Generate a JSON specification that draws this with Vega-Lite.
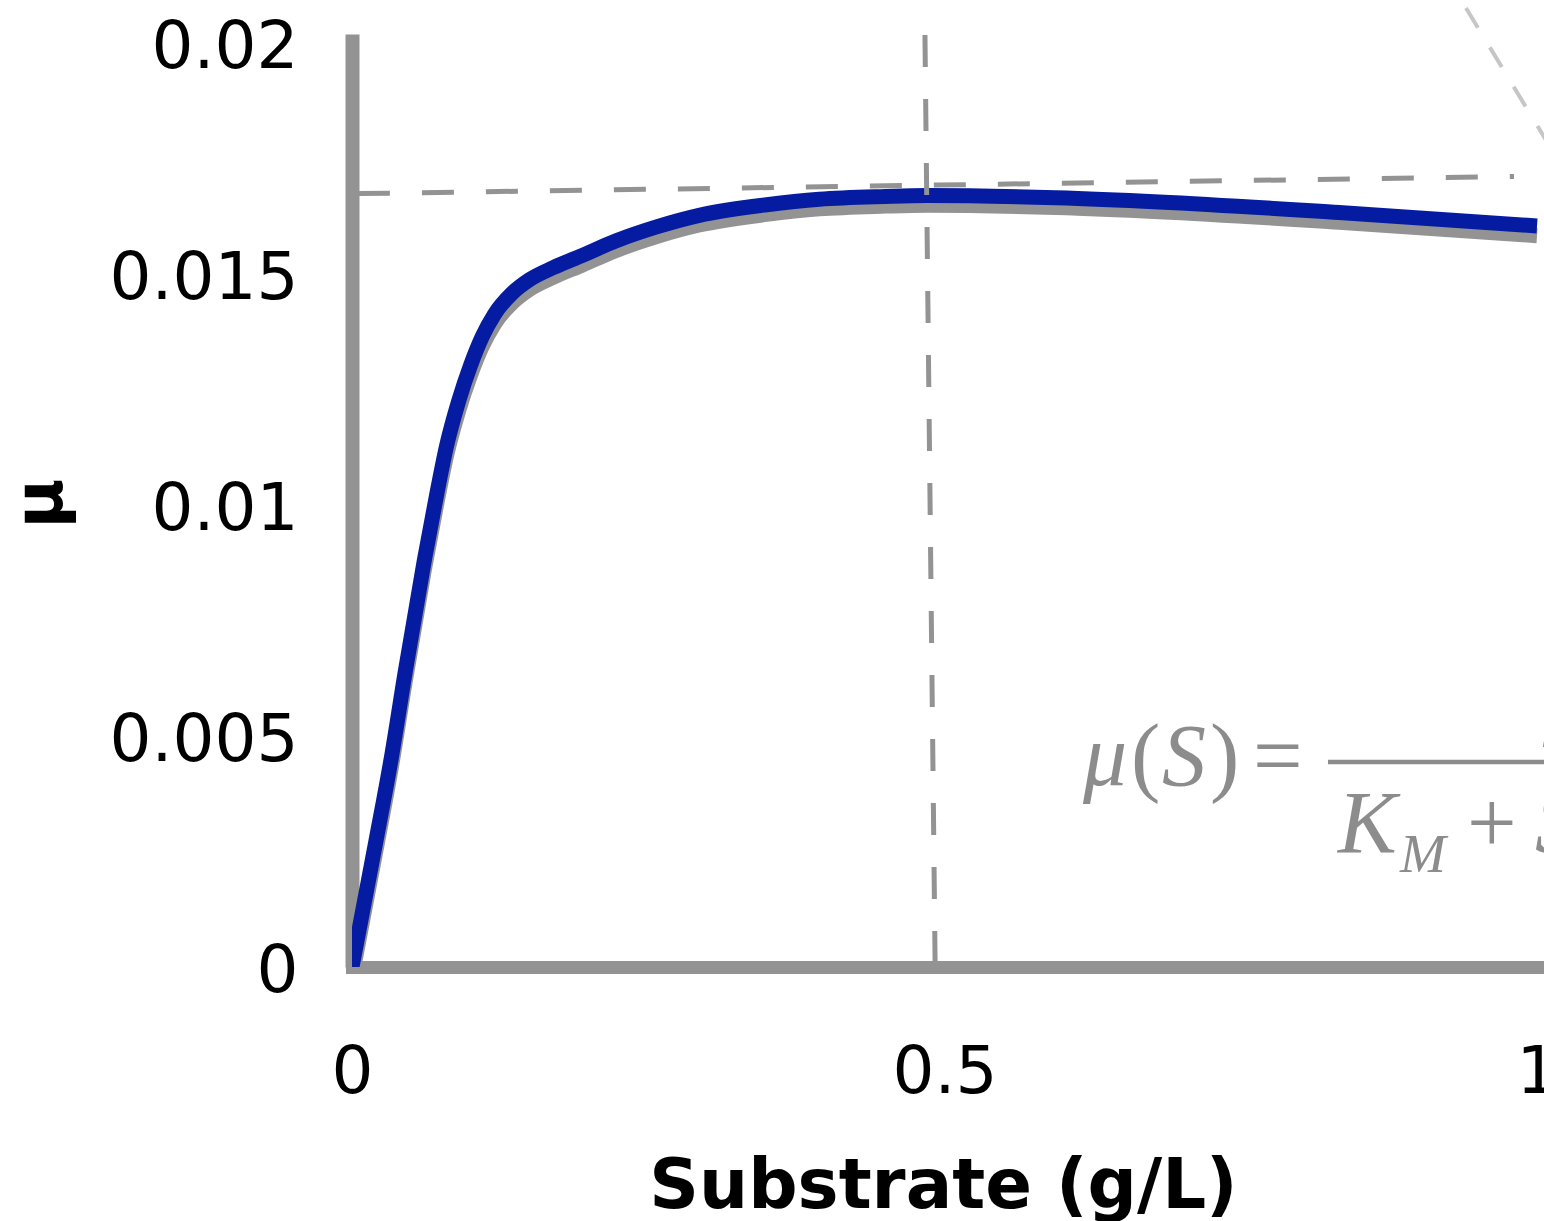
{
  "$schema": "https://vega.github.io/schema/vega-lite/v6.json",
  "width": 1192,
  "height": 933,
  "autosize": {"type": "none"},
  "padding": {"left": 352, "top": 34, "right": 0, "bottom": 254},
  "background": "white",
  "config": {"view": {"stroke": null}},
  "datasets": {
    "curve": [
      {"x": 0, "y": 0}, {"x": 0.02, "y": 0.0027}, {"x": 0.033, "y": 0.0045}, {"x": 0.045, "y": 0.0064},
      {"x": 0.061, "y": 0.0088}, {"x": 0.072, "y": 0.0103}, {"x": 0.08, "y": 0.0113}, {"x": 0.09, "y": 0.01225},
      {"x": 0.1, "y": 0.01302}, {"x": 0.11, "y": 0.01365}, {"x": 0.12, "y": 0.01412}, {"x": 0.135, "y": 0.01458},
      {"x": 0.15, "y": 0.01488}, {"x": 0.17, "y": 0.01514}, {"x": 0.194, "y": 0.0154}, {"x": 0.223, "y": 0.01572},
      {"x": 0.257, "y": 0.01602}, {"x": 0.293, "y": 0.01627}, {"x": 0.35, "y": 0.0165}, {"x": 0.3945, "y": 0.01662},
      {"x": 0.45, "y": 0.01668}, {"x": 0.485, "y": 0.0167}, {"x": 0.594, "y": 0.01665}, {"x": 0.681, "y": 0.01656},
      {"x": 0.833, "y": 0.01633}, {"x": 1.0, "y": 0.01604}
    ],
    "shadow": [
      {"x": 0, "y": -0.00021}, {"x": 0.02, "y": 0.00249}, {"x": 0.033, "y": 0.00429}, {"x": 0.045, "y": 0.00619},
      {"x": 0.061, "y": 0.00859}, {"x": 0.072, "y": 0.01009}, {"x": 0.08, "y": 0.01109}, {"x": 0.09, "y": 0.01204},
      {"x": 0.1, "y": 0.01281}, {"x": 0.11, "y": 0.01344}, {"x": 0.12, "y": 0.01391}, {"x": 0.135, "y": 0.01437},
      {"x": 0.15, "y": 0.01467}, {"x": 0.17, "y": 0.01493}, {"x": 0.194, "y": 0.01519}, {"x": 0.223, "y": 0.01551},
      {"x": 0.257, "y": 0.01581}, {"x": 0.293, "y": 0.01606}, {"x": 0.35, "y": 0.01629}, {"x": 0.3945, "y": 0.01641},
      {"x": 0.45, "y": 0.01647}, {"x": 0.485, "y": 0.01649}, {"x": 0.594, "y": 0.01644}, {"x": 0.681, "y": 0.01635},
      {"x": 0.833, "y": 0.01612}, {"x": 1.0, "y": 0.01583}
    ],
    "hline": [{"x": 0.005, "y": 0.01674, "x2": 0.9806, "y2": 0.01711}],
    "vline": [{"x": 0.4835, "y": 0.020173, "x2": 0.4921, "y2": 0}],
    "diag": [{"x": 0.9401, "y": 0.020758, "x2": 1.0101, "y2": 0.017792}],
    "frac": [{"x": 0.8236, "y": 0.004437, "x2": 1.1, "y2": 0.004437}],
    "italic": [
      {"x": 0.6169, "y": 0.003939, "t": "μ"},
      {"x": 0.6835, "y": 0.003939, "t": "S"},
      {"x": 0.8321, "y": 0.002489, "t": "K"},
      {"x": 0.9983, "y": 0.002489, "t": "S"},
      {"x": 1.005, "y": 0.005173, "t": "μ"}
    ],
    "sub": [{"x": 0.8844, "y": 0.002056, "t": "M"}],
    "upright": [
      {"x": 0.6574, "y": 0.003939, "t": "("},
      {"x": 0.7241, "y": 0.003939, "t": ")"},
      {"x": 0.7603, "y": 0.003939, "t": "="},
      {"x": 0.9409, "y": 0.002489, "t": "+"}
    ]
  },
  "encoding": {
    "x": {
      "field": "x", "type": "quantitative",
      "scale": {"domain": [0, 1.0059], "nice": false, "zero": false},
      "axis": {
        "values": [0, 0.5, 1], "format": "~g",
        "domainColor": "#939393", "domainWidth": 13, "domainCap": "square",
        "ticks": false, "grid": false,
        "labelFont": "DejaVu Sans", "labelFontSize": 66, "labelColor": "#000000",
        "labelPadding": 125, "labelBaseline": "alphabetic", "labelFlush": false, "labelLimit": 0,
        "title": "Substrate (g/L)", "titleFont": "DejaVu Sans", "titleFontWeight": "bold",
        "titleFontSize": 69, "titleColor": "#000000", "titleBaseline": "alphabetic",
        "titleY": 240, "titleX": 591, "titleLimit": 0
      }
    },
    "y": {
      "field": "y", "type": "quantitative",
      "scale": {"domain": [0, 0.020195], "nice": false},
      "axis": {
        "values": [0, 0.005, 0.01, 0.015, 0.02], "format": "~g",
        "domainColor": "#939393", "domainWidth": 14,
        "ticks": false, "grid": false,
        "labelFont": "DejaVu Sans", "labelFontSize": 66, "labelColor": "#000000",
        "labelPadding": 54, "labelBaseline": "alphabetic", "labelOffset": 24, "labelLimit": 0,
        "title": "μ", "titleFont": "DejaVu Sans", "titleFontWeight": "bold",
        "titleFontSize": 68, "titleColor": "#000000", "titleBaseline": "alphabetic",
        "titleAlign": "center", "titleX": -291, "titleY": 469
      }
    }
  },
  "layer": [
    {
      "data": {"name": "shadow"},
      "mark": {"type": "line", "clip": true, "interpolate": "monotone", "color": "#939393", "strokeWidth": 15, "strokeCap": "butt", "strokeJoin": "round"}
    },
    {
      "data": {"name": "curve"},
      "mark": {"type": "line", "clip": true, "interpolate": "monotone", "color": "#051ba1", "strokeWidth": 15, "strokeCap": "butt", "strokeJoin": "round"}
    },
    {
      "data": {"name": "hline"},
      "mark": {"type": "rule", "color": "#939393", "strokeWidth": 5, "strokeDash": [32, 32]},
      "encoding": {"x2": {"field": "x2"}, "y2": {"field": "y2"}}
    },
    {
      "data": {"name": "vline"},
      "mark": {"type": "rule", "color": "#939393", "strokeWidth": 5, "strokeDash": [32, 32]},
      "encoding": {"x2": {"field": "x2"}, "y2": {"field": "y2"}}
    },
    {
      "data": {"name": "diag"},
      "mark": {"type": "rule", "color": "#c6c6c6", "strokeWidth": 4, "strokeDash": [23, 23]},
      "encoding": {"x2": {"field": "x2"}, "y2": {"field": "y2"}}
    },
    {
      "data": {"name": "frac"},
      "mark": {"type": "rule", "color": "#8c8c8c", "strokeWidth": 4.5},
      "encoding": {"x2": {"field": "x2"}, "y2": {"field": "y2"}}
    },
    {
      "data": {"name": "italic"},
      "mark": {"type": "text", "font": "Liberation Serif", "fontStyle": "italic", "fontSize": 88, "color": "#8c8c8c", "align": "left", "baseline": "alphabetic"},
      "encoding": {"text": {"field": "t"}}
    },
    {
      "data": {"name": "sub"},
      "mark": {"type": "text", "font": "Liberation Serif", "fontStyle": "italic", "fontSize": 55, "color": "#8c8c8c", "align": "left", "baseline": "alphabetic"},
      "encoding": {"text": {"field": "t"}}
    },
    {
      "data": {"name": "upright"},
      "mark": {"type": "text", "font": "Liberation Serif", "fontSize": 88, "color": "#8c8c8c", "align": "left", "baseline": "alphabetic"},
      "encoding": {"text": {"field": "t"}}
    }
  ]
}
